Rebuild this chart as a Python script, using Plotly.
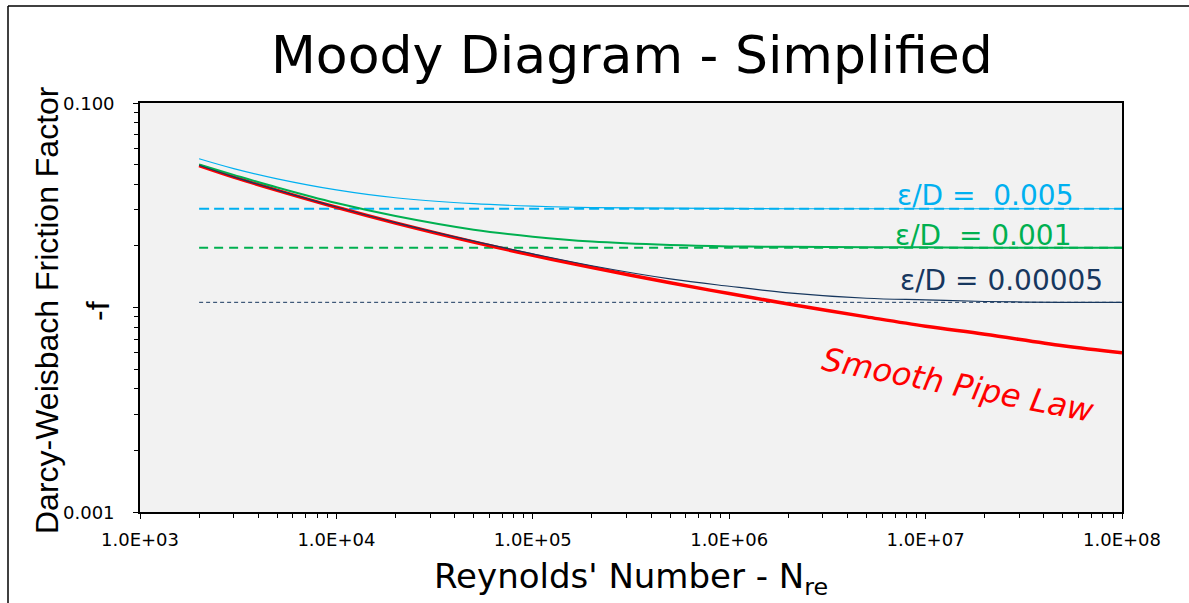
import plotly.graph_objects as go

# ---------------- data ----------------
reynolds = [2e3, 3e3, 5e3, 1e4, 2e4, 5e4, 1e5, 2e5, 5e5, 1e6, 2e6, 5e6, 1e7, 2e7, 5e7, 1e8]
f_smooth = [0.0494, 0.0434, 0.0374, 0.0309, 0.0259, 0.0209, 0.0180, 0.0157, 0.0132, 0.0117,
            0.0104, 0.0090, 0.0081, 0.0074, 0.0065, 0.0060]
f_eps_00005 = [0.0496, 0.0435, 0.0375, 0.0310, 0.0260, 0.0211, 0.0183, 0.0160, 0.0138, 0.0127,
               0.0118, 0.0111, 0.0109, 0.0107, 0.0106, 0.0106]
f_eps_0001 = [0.0500, 0.0445, 0.0386, 0.0324, 0.0280, 0.0240, 0.0222, 0.0210, 0.0202, 0.0199,
              0.0198, 0.0197, 0.0197, 0.0196, 0.0196, 0.0196]
f_eps_0005 = [0.0534, 0.0478, 0.0426, 0.0376, 0.0344, 0.0322, 0.0313, 0.0308, 0.0306, 0.0305,
              0.0304, 0.0304, 0.0304, 0.0304, 0.0304, 0.0304]
rough_re = [2e3, 1e8]
rough_0005 = [0.0304, 0.0304]
rough_0001 = [0.0196, 0.0196]
rough_00005 = [0.0106, 0.0106]

x_tick_vals = [1e3, 1e4, 1e5, 1e6, 1e7, 1e8]
x_tick_text = ["1.0E+03", "1.0E+04", "1.0E+05", "1.0E+06", "1.0E+07", "1.0E+08"]
y_tick_vals = [0.001, 0.01, 0.1]
y_label_vals = [0.001, 0.1]
y_label_text = ["0.001", "0.100"]

C_BLUE = "#00B0F0"
C_GREEN = "#00B050"
C_NAVY = "#17375E"
C_RED = "#FF0000"

# ---------------- layout geometry ----------------
W, H = 1189, 603
L, R, T, B = 140, 1122, 103, 512


def px(xp):
    return (xp - L) / (R - L)


def py(yp):
    return (B - yp) / (B - T)


fig = go.Figure()

# asymptotes
fig.add_trace(go.Scatter(x=rough_re, y=rough_0005, mode="lines",
                         line=dict(color=C_BLUE, width=2, dash="10px,5px")))
fig.add_trace(go.Scatter(x=rough_re, y=rough_0001, mode="lines",
                         line=dict(color=C_GREEN, width=2, dash="9px,6px")))
fig.add_trace(go.Scatter(x=rough_re, y=rough_00005, mode="lines",
                         line=dict(color=C_NAVY, width=1, dash="4px,3px")))
# curves
fig.add_trace(go.Scatter(x=reynolds, y=f_smooth, mode="lines", line_shape="spline",
                         line=dict(color=C_RED, width=3.5)))
fig.add_trace(go.Scatter(x=reynolds, y=f_eps_0005, mode="lines", line_shape="spline",
                         line=dict(color=C_BLUE, width=1.2)))
fig.add_trace(go.Scatter(x=reynolds, y=f_eps_0001, mode="lines", line_shape="spline",
                         line=dict(color=C_GREEN, width=2)))
fig.add_trace(go.Scatter(x=reynolds, y=f_eps_00005, mode="lines", line_shape="spline",
                         line=dict(color=C_NAVY, width=1.2)))

minor_x = [m * 10 ** d for d in range(3, 8) for m in range(2, 10)]
minor_y = [m * 10 ** d for d in range(-3, -1) for m in range(2, 10)]

fig.update_xaxes(type="log", range=[3, 8], showgrid=False, zeroline=False,
                 showline=True, linecolor="black", linewidth=1.5, mirror=True,
                 ticks="outside", ticklen=5, tickcolor="black", tickwidth=1,
                 tickvals=x_tick_vals, ticktext=x_tick_text,
                 tickfont=dict(family="DejaVu Sans", size=18, color="black"),
                 ticklabelstandoff=6,
                 minor=dict(tickvals=minor_x, ticks="outside", ticklen=4,
                            tickcolor="black", showgrid=False))
fig.update_yaxes(type="log", range=[-3, -1], showgrid=False, zeroline=False,
                 showline=True, linecolor="black", linewidth=1.5, mirror=True,
                 ticks="outside", ticklen=5, tickcolor="black", tickwidth=1,
                 tickvals=y_tick_vals, showticklabels=False,
                 minor=dict(tickvals=minor_y, ticks="outside", ticklen=4,
                            tickcolor="black", showgrid=False))

ann = []
for v, t in zip(y_label_vals, y_label_text):
    ann.append(dict(text=t, xref="paper", yref="y", x=px(117), y=__import__("math").log10(v),
                    xanchor="right", yanchor="middle", showarrow=False,
                    font=dict(family="DejaVu Sans", size=18, color="black")))

txt = []
txt.append(dict(text="Moody Diagram - Simplified", x=px(632), y=py(55),
                font=dict(family="DejaVu Sans", size=52, color="black")))
txt.append(dict(text="Reynolds' Number - N<sub>re</sub>", x=px(631), y=py(578),
                font=dict(family="DejaVu Sans", size=34, color="black")))
txt.append(dict(text="Darcy-Weisbach Friction Factor", x=px(47), y=py(310), textangle=-90,
                font=dict(family="Liberation Sans", size=32, color="black")))
txt.append(dict(text="-f", x=px(98), y=py(311), textangle=-90,
                font=dict(family="Liberation Sans", size=32, color="black")))
txt.append(dict(text="\u03b5/D =\u00a0 0.005", x=px(985), y=py(195),
                font=dict(family="DejaVu Sans", size=28, color=C_BLUE)))
txt.append(dict(text="\u03b5/D\u00a0 = 0.001", x=px(983), y=py(235),
                font=dict(family="DejaVu Sans", size=28, color=C_GREEN)))
txt.append(dict(text="\u03b5/D = 0.00005", x=px(1001), y=py(280),
                font=dict(family="DejaVu Sans", size=28, color=C_NAVY)))
txt.append(dict(text="<i>Smooth Pipe Law</i>", x=px(958), y=py(385), textangle=11,
                font=dict(family="DejaVu Sans", size=32, color=C_RED)))
for a in txt:
    a.update(xref="paper", yref="paper", showarrow=False, xanchor="center", yanchor="middle")
ann.extend(txt)

shapes = [
    dict(type="line", xref="paper", yref="paper", x0=px(8), x1=px(8), y0=py(620), y1=py(6),
         line=dict(color="black", width=1.5)),
    dict(type="line", xref="paper", yref="paper", x0=px(8), x1=px(1200), y0=py(6), y1=py(6),
         line=dict(color="black", width=1.5)),
]

fig.update_layout(width=W, height=H, autosize=False,
                  margin=dict(l=L, r=W - R, t=T, b=H - B, pad=0),
                  paper_bgcolor="white", plot_bgcolor="#F2F2F2",
                  showlegend=False, annotations=ann, shapes=shapes)

fig.write_html("out.html", config={"displayModeBar": False},
               post_script="document.body.style.margin='0';document.body.style.overflow='hidden';")
